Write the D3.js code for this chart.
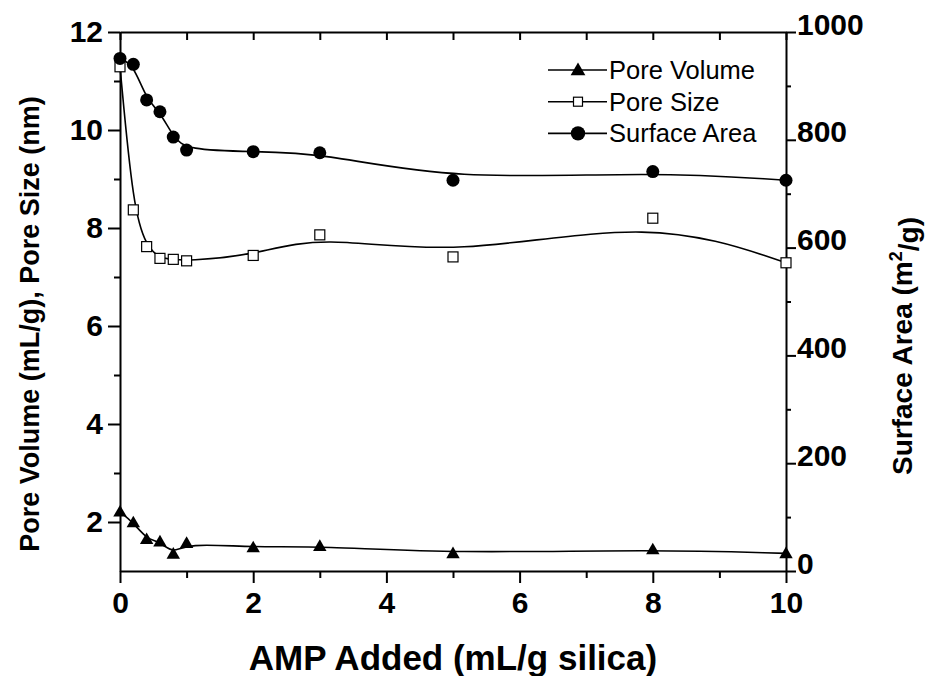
<!DOCTYPE html>
<html>
<head>
<meta charset="utf-8">
<script src="https://cdn.jsdelivr.net/npm/d3@7"></script>
<style>
  body { margin: 0; background: #fff; }
  svg { display: block; }
  .axis path, .axis line { stroke: #000; stroke-width: 2; }
  .axis text { font-family: "Liberation Sans", Arial, sans-serif; font-weight: bold; font-size: 30px; fill: #000; }
  .title { font-family: "Liberation Sans", Arial, sans-serif; font-weight: bold; font-size: 27px; fill: #000; }
  .legend text { font-family: "Liberation Sans", Arial, sans-serif; font-size: 25.5px; fill: #000; }
  .line { fill: none; stroke: #000; stroke-width: 1.6; }
</style>
</head>
<body>
<div id="chart"></div>
<script>
// AMP added (mL/g silica)
const amp = [0, 0.2, 0.4, 0.6, 0.8, 1, 2, 3, 5, 8, 10];
// mL/g
const poreVolume = [2.21, 1.99, 1.65, 1.60, 1.35, 1.57, 1.48, 1.51, 1.36, 1.44, 1.36];
// nm
const poreSize = [11.29, 8.37, 7.62, 7.38, 7.36, 7.33, 7.44, 7.86, 7.41, 8.2, 7.29];
// m2/g
const surfaceArea = [951, 940, 874, 852, 805, 781, 778, 776, 725, 741, 725];

const xTicks = [0, 2, 4, 6, 8, 10];
const xMinor = [1, 3, 5, 7, 9];
const leftTicks = [2, 4, 6, 8, 10, 12];
const leftMinor = [3, 5, 7, 9, 11];
const rightTicks = [0, 200, 400, 600, 800, 1000];
const rightMinor = [100, 300, 500, 700, 900];

const width = 929, height = 676;
const margin = {top: 32, right: 143, bottom: 105, left: 120};
const x0 = margin.left, x1 = width - margin.right;
const y0 = height - margin.bottom, y1 = margin.top;

const svg = d3.select('#chart').append('svg')
    .attr('width', width)
    .attr('height', height);

const x = d3.scaleLinear().domain([0, 10]).range([x0, x1]);
const yLeft = d3.scaleLinear().domain([1, 12]).range([y0, y1]);
const yRight = d3.scaleLinear().domain([0, 1000]).range([y0, y1]);

// bottom axis, major + minor
svg.append('g').attr('class', 'x axis')
    .attr('transform', `translate(0,${y0})`)
    .call(d3.axisBottom(x).tickValues(xTicks).tickSize(12).tickSizeOuter(0).tickPadding(9).tickFormat(d3.format('d')));
svg.append('g').attr('class', 'axis')
    .attr('transform', `translate(0,${y0})`)
    .call(d3.axisBottom(x).tickValues(xMinor).tickSize(7).tickFormat(''))
    .select('.domain').remove();

// top axis, ticks point inward
svg.append('g').attr('class', 'axis')
    .attr('transform', `translate(0,${y1})`)
    .call(d3.axisBottom(x).tickValues(xTicks.concat(xMinor)).tickSize(8).tickSizeOuter(0).tickFormat(''));

// left axis
svg.append('g').attr('class', 'y axis')
    .attr('transform', `translate(${x0},0)`)
    .call(d3.axisLeft(yLeft).tickValues(leftTicks).tickSize(12).tickSizeOuter(0).tickPadding(5).tickFormat(d3.format('d')));
svg.append('g').attr('class', 'axis')
    .attr('transform', `translate(${x0},0)`)
    .call(d3.axisLeft(yLeft).tickValues(leftMinor).tickSize(6).tickFormat(''))
    .select('.domain').remove();

// right axis, labels sit on the tick like Origin does
const right = svg.append('g').attr('class', 'y axis')
    .attr('transform', `translate(${x1},0)`)
    .call(d3.axisRight(yRight).tickValues(rightTicks).tickSize(10).tickSizeOuter(0).tickPadding(1).tickFormat(d3.format('d')));
right.selectAll('text').attr('dy', '0.07em');
svg.append('g').attr('class', 'axis')
    .attr('transform', `translate(${x1},0)`)
    .call(d3.axisRight(yRight).tickValues(rightMinor).tickSize(5).tickFormat(''))
    .select('.domain').remove();

// axis titles
svg.append('text').attr('class', 'title')
    .attr('x', (x0 + x1) / 2).attr('y', 670)
    .attr('text-anchor', 'middle')
    .style('font-size', '35px')
    .text('AMP Added (mL/g silica)');

svg.append('text').attr('class', 'title')
    .attr('transform', 'translate(39,324) rotate(-90)')
    .attr('text-anchor', 'middle')
    .text('Pore Volume (mL/g), Pore Size (nm)');

const rt = svg.append('text').attr('class', 'title')
    .attr('transform', 'translate(912,346) rotate(-90)')
    .attr('text-anchor', 'middle')
    .style('font-size', '28px');
rt.append('tspan').text('Surface Area (m');
rt.append('tspan').attr('dy', '-0.55em').style('font-size', '18px').text('2');
rt.append('tspan').attr('dy', '0.55em').text('/g)');

// series
const series = [
  {name: 'Pore Volume', values: poreVolume, y: yLeft, marker: 'triangle'},
  {name: 'Pore Size', values: poreSize, y: yLeft, marker: 'square'},
  {name: 'Surface Area', values: surfaceArea, y: yRight, marker: 'circle'}
];

function drawMarker(g, kind, cx, cy, scale) {
  const s = scale || 1;
  if (kind === 'circle') {
    g.append('circle').attr('cx', cx).attr('cy', cy).attr('r', 6.5 * s).attr('fill', '#000');
  } else if (kind === 'square') {
    g.append('rect').attr('x', cx - 5 * s).attr('y', cy - 5 * s)
        .attr('width', 10 * s).attr('height', 10 * s)
        .attr('fill', '#fff').attr('stroke', '#000').attr('stroke-width', 1.2);
  } else {
    g.append('path').attr('transform', `translate(${cx},${cy + 1})`)
        .attr('d', d3.symbol(d3.symbolTriangle, 78 * s * s)())
        .attr('fill', '#000');
  }
}

const plot = svg.append('g');
series.forEach(s => {
  const pts = amp.map((a, i) => [a, s.values[i]]);
  const line = d3.line()
      .x(d => x(d[0]))
      .y(d => s.y(d[1]))
      .curve(d3.curveBasis);
  plot.append('path').datum(pts).attr('class', 'line').attr('d', line);
  pts.forEach(d => drawMarker(plot, s.marker, x(d[0]), s.y(d[1])));
});

// legend
const legend = svg.append('g').attr('class', 'legend');
series.forEach((s, i) => {
  const ly = 70 + i * 31.7;
  legend.append('line').attr('class', 'line')
      .attr('x1', 548).attr('x2', 607).attr('y1', ly).attr('y2', ly);
  drawMarker(legend, s.marker, 578, ly, s.marker === 'square' ? 0.9 : 1.1);
  legend.append('text').attr('x', 609).attr('y', ly).attr('dy', '0.35em').text(s.name);
});
</script>
</body>
</html>
